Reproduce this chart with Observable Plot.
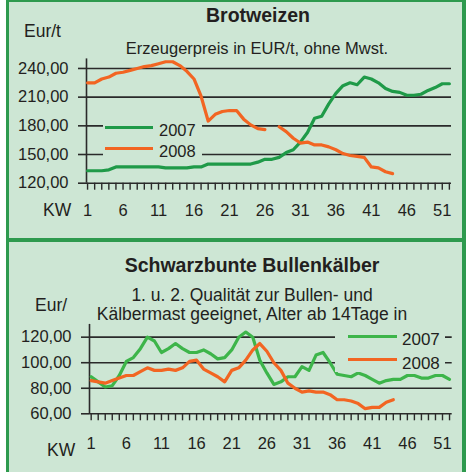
<!DOCTYPE html>
<html><head><meta charset="utf-8">
<script src="https://cdn.jsdelivr.net/npm/d3@7"></script>
<script src="https://cdn.jsdelivr.net/npm/@observablehq/plot@0.6"></script>
<style>
html,body{margin:0;padding:0;background:#fff;}
#root{position:relative;width:466px;height:472px;overflow:hidden;font-family:"Liberation Sans",Arial,sans-serif;color:#231f20;}
.abs{position:absolute;line-height:1;white-space:nowrap;}
svg{position:absolute;left:0;}
</style></head><body><div id="root"></div>
<script>
// ---- data ----
const weeks = d3.range(1, 53);
const weekLabels = [1, 6, 11, 16, 21, 26, 31, 36, 41, 46, 51];
const seriesNames = ["2007", "2008"];

const wheatTicks = [120, 150, 180, 210, 240];
const wheat2007 = [133,133,133,134,137,137,137,137,137,137,137,136,136,136,136,137,137,140,140,140,140,140,140,140,142,145,145,147,152,155,163,173,188,190,203,214,222,225,223,231,229,225,219,216,215,212,212,213,217,220,224,224];
const wheat2008 = [225,225,229,231,235,236,238,240,242,243,245,247,247,243,237,229,211,185,192,195,196,196,187,181,177,176,null,179,174,167,162,163,160,160,158,155,151,149,148,147,137,136,132,130];

const calvesTicks = [60, 80, 100, 120];
const calves2007 = [89,85,81,82,90,101,104,111,120,117,108,111,115,111,108,108,110,107,103,104,110,120,124,120,102,92,83,85,89,89,97,94,106,108,100,91,90,89,92,90,87,84,86,87,87,90,90,88,88,90,90,87];
const calves2008 = [86,85,84,86,88,90,90,93,96,94,94,95,94,96,101,102,95,92,89,85,94,96,102,110,115,109,100,94,84,80,77,78,77,77,75,71,71,70,68,64,65,65,69,71];

// ---- styles ----
const FRAME = "#2e9a4e", PANEL = "#cde6d4", INK = "#231f20";
const ORANGE = "#f26522";
const root = document.getElementById("root");

function box(l, t, w, h, bg) {
  const d = document.createElement("div");
  d.className = "abs";
  Object.assign(d.style, {left: l + "px", top: t + "px", width: w + "px", height: h + "px", background: bg});
  root.appendChild(d);
  return d;
}
function text(str, {x, baseline, size, bold = false, center = false}) {
  const d = document.createElement("div");
  d.className = "abs";
  d.textContent = str;
  Object.assign(d.style, {
    left: x + "px", top: (baseline - 0.8465 * size) + "px", fontSize: size + "px",
    fontWeight: bold ? "bold" : "normal", transform: center ? "translateX(-50%)" : "none"
  });
  root.appendChild(d);
}

// frame + panels
box(6, 0, 460, 472, FRAME);
box(9, 2, 453, 236, PANEL);
box(9, 242, 453, 230, PANEL);

const fmt = d => d.toFixed(2).replace(".", ",");

function chart({s2007, s2008, c2007, yDomain, yTicks, xDomain, height, top, mt, mb, ml, mr, xPad}) {
  const d07 = weeks.map((w, i) => ({w, v: s2007[i]}));
  const d08 = s2008.map((v, i) => ({w: i + 1, v}));
  const svg = Plot.plot({
    width: 466, height,
    marginTop: mt, marginBottom: mb, marginLeft: ml, marginRight: mr,
    style: {background: "transparent", fontFamily: "Liberation Sans, Arial, sans-serif", color: INK, overflow: "visible"},
    x: {type: "linear", domain: xDomain},
    y: {domain: yDomain},
    marks: [
      Plot.ruleY(yTicks, {stroke: "#2a2a2a", strokeWidth: 1.6}),
      Plot.ruleX([xDomain[0]], {stroke: "#2a2a2a", strokeWidth: 1.6}),
      Plot.axisY({ticks: yTicks, label: null, tickSize: 8, tickPadding: 10, tickFormat: fmt, fontSize: 16.5, strokeWidth: 1.6, stroke: "#2a2a2a"}),
      Plot.axisX({ticks: weeks, label: null, tickSize: 7, tickPadding: xPad, fontSize: 16.5, strokeWidth: 1.4, stroke: "#2a2a2a",
        tickFormat: d => weekLabels.includes(d) ? String(d) : ""}),
      Plot.line(d07, {x: "w", y: "v", stroke: c2007, strokeWidth: 3.2}),
      Plot.line(d08, {x: "w", y: "v", stroke: ORANGE, strokeWidth: 3.2})
    ]
  });
  svg.style.top = top + "px";
  root.appendChild(svg);
}

// ---- top panel: Brotweizen ----
chart({s2007: wheat2007, s2008: wheat2008, c2007: "#1f9a48", yDomain: [120, 250], yTicks: wheatTicks,
  xDomain: [0.85, 52.3], height: 240, top: 0, mt: 58.4, mb: 57.3, ml: 86, mr: 15, xPad: 14.3});
text("Brotweizen", {x: 258, baseline: 23, size: 19.5, bold: true, center: true});
text("Eur/t", {x: 24, baseline: 38, size: 17.5});
text("Erzeugerpreis in EUR/t, ohne Mwst.", {x: 257, baseline: 53.5, size: 16.5, center: true});
text("KW", {x: 43, baseline: 217, size: 17.5});
// legend
box(103, 112, 99, 51, PANEL);
box(105, 125.5, 48, 3, "#1f9a48");
box(105, 147, 48, 3, ORANGE);
text(seriesNames[0], {x: 159, baseline: 136, size: 16.5});
text(seriesNames[1], {x: 159, baseline: 157, size: 16.5});

// ---- bottom panel: Schwarzbunte Bullenkälber ----
chart({s2007: calves2007, s2008: calves2008, c2007: "#3db54a", yDomain: [60, 130], yTicks: calvesTicks,
  xDomain: [0.76, 52.38], height: 232, top: 240, mt: 83.9, mb: 58.7, ml: 89, mr: 14.3, xPad: 16.7});
text("Schwarzbunte Bullenkälber", {x: 252, baseline: 273, size: 19.5, bold: true, center: true});
text("1. u. 2. Qualität zur Bullen- und", {x: 252, baseline: 302, size: 17.5, center: true});
text("Kälbermast geeignet, Alter ab 14Tage in", {x: 252, baseline: 320.7, size: 17.5, center: true});
text("Eur/", {x: 35, baseline: 312, size: 17.5});
text("KW", {x: 47, baseline: 456.7, size: 17.5});
// legend
box(335, 325, 110, 47, PANEL);
box(348, 335.2, 49, 3, "#3db54a");
box(348, 357.8, 49, 3, ORANGE);
text(seriesNames[0], {x: 402, baseline: 345, size: 17});
text(seriesNames[1], {x: 402, baseline: 369, size: 17});
</script></body></html>
